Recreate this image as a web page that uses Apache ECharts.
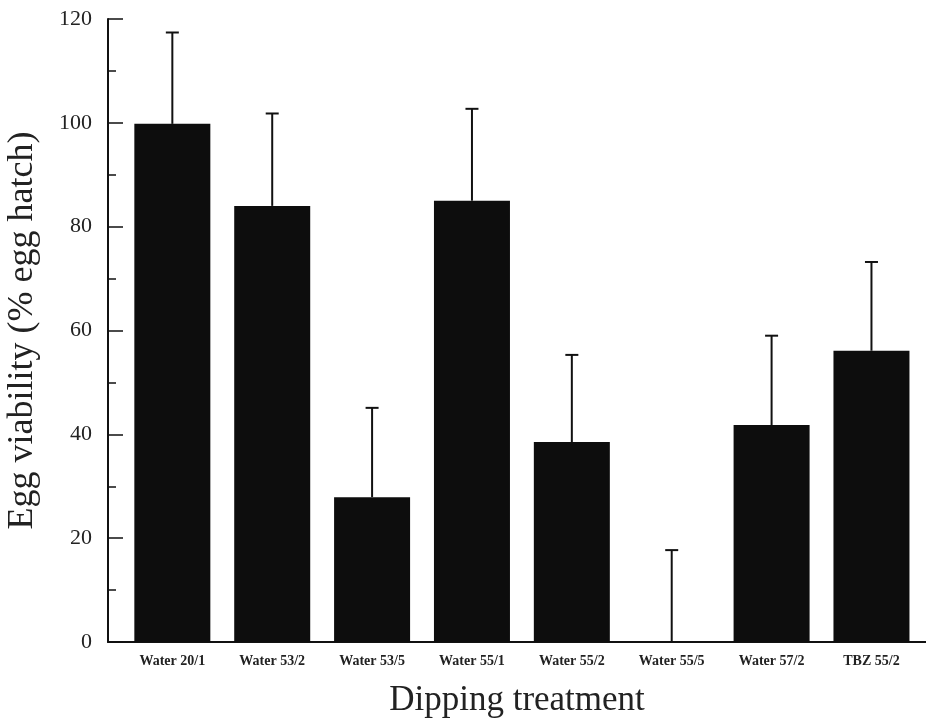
<!DOCTYPE html>
<html>
<head>
<meta charset="utf-8">
<script src="https://cdn.jsdelivr.net/npm/echarts@6/dist/echarts.min.js"></script>
<style>html,body{margin:0;padding:0;background:#fff;}#c{width:926px;height:720px;}</style>
</head>
<body>
<div id="c"></div>
<script>
const categories = ['Water 20/1', 'Water 53/2', 'Water 53/5', 'Water 55/1', 'Water 55/2', 'Water 55/5', 'Water 57/2', 'TBZ 55/2'];
const means = [99.8, 84.0, 27.9, 85.0, 38.5, 0, 41.8, 56.1];
const errors = [17.6, 17.8, 17.2, 17.7, 16.8, 17.7, 17.2, 17.1];
const yTicks = [0, 20, 40, 60, 80, 100, 120];

const font = '"Liberation Serif", "DejaVu Serif", serif';
const chart = echarts.init(document.getElementById('c'), null, {renderer: 'canvas'});
const errData = categories.map((c, i) => [i, means[i], means[i] + errors[i]]);

chart.setOption({
  animation: false,
  backgroundColor: '#fff',
  grid: [
    {left: 108, right: 0, top: 19, bottom: 78, containLabel: false, outerBoundsMode: 'none'},
    {left: 122.4, right: 4.6, top: 19, bottom: 78, containLabel: false, outerBoundsMode: 'none'}
  ],
  xAxis: [
    {
      gridIndex: 0, type: 'value', min: 0, max: 1,
      axisLine: {show: true, lineStyle: {color: '#111', width: 2}},
      axisTick: {show: false}, axisLabel: {show: false}, splitLine: {show: false},
      name: 'Dipping treatment', nameLocation: 'middle', nameGap: 41,
      nameTextStyle: {fontFamily: font, fontSize: 35, color: '#222'}
    },
    {
      gridIndex: 1, type: 'category', data: categories,
      axisLine: {show: false}, axisTick: {show: false},
      axisLabel: {fontFamily: font, fontSize: 14, fontWeight: 'bold', color: '#222', margin: 12, interval: 0}
    }
  ],
  yAxis: [
    {
      gridIndex: 0, type: 'value', min: yTicks[0], max: yTicks[yTicks.length - 1], interval: 20,
      axisLine: {show: true, lineStyle: {color: '#111', width: 2}},
      axisTick: {show: true, inside: true, length: 15, lineStyle: {color: '#111', width: 1.5}},
      minorTick: {show: true, splitNumber: 2, length: 8, lineStyle: {color: '#111', width: 1.5}},
      axisLabel: {fontFamily: font, fontSize: 22, color: '#222', margin: 16},
      splitLine: {show: false},
      name: 'Egg viability (% egg hatch)', nameLocation: 'middle', nameGap: 67,
      nameTextStyle: {fontFamily: font, fontSize: 36, color: '#222'}
    },
    {
      gridIndex: 1, type: 'value', min: yTicks[0], max: yTicks[yTicks.length - 1], show: false
    }
  ],
  series: [
    {
      type: 'bar', xAxisIndex: 1, yAxisIndex: 1, data: means, barWidth: 76,
      itemStyle: {color: '#0d0d0d'}
    },
    {
      type: 'custom', xAxisIndex: 1, yAxisIndex: 1, data: errData,
      renderItem: function (params, api) {
        const x = api.value(0);
        const lo = api.coord([x, api.value(1)]);
        const hi = api.coord([x, api.value(2)]);
        const hw = 6.5;
        const style = {stroke: '#111', lineWidth: 2};
        return {
          type: 'group',
          children: [
            {type: 'line', shape: {x1: lo[0], y1: lo[1], x2: hi[0], y2: hi[1]}, style: style},
            {type: 'line', shape: {x1: hi[0] - hw, y1: hi[1], x2: hi[0] + hw, y2: hi[1]}, style: style}
          ]
        };
      },
      z: 3
    }
  ]
});
</script>
</body>
</html>
